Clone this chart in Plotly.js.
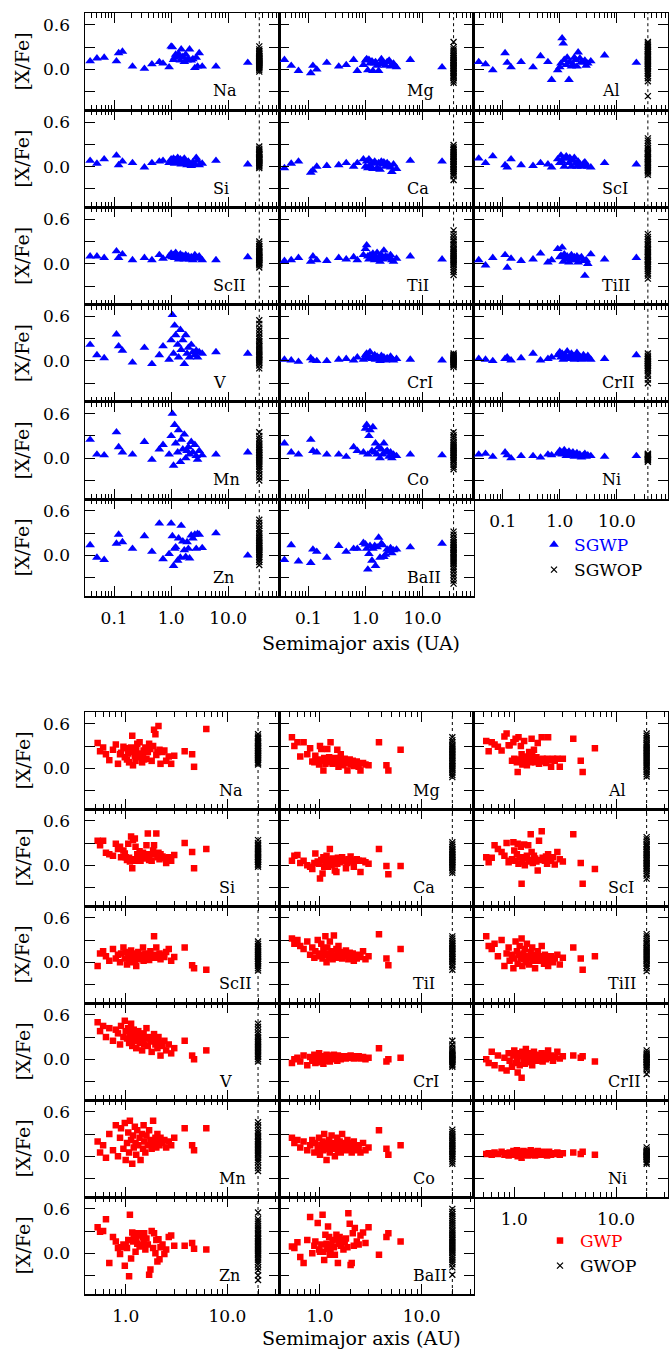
<!DOCTYPE html>
<html><head><meta charset="utf-8">
<script src="https://cdn.plot.ly/plotly-3.0.1.min.js"></script>
<style>html,body{margin:0;padding:0;background:#fff}#chart{width:669px;height:1354px}</style>
</head><body><div id="chart"></div>
<script>
// ---------------- DATA ----------------
const ELEMENTS = ['Na','Mg','Al','Si','Ca','ScI','ScII','TiI','TiII','V','CrI','CrII','Mn','Co','Ni','Zn','BaII'];

// Top figure: subgiants with planets (SGWP), semimajor axis (UA)
const SGWP_A = [0.038,0.050,0.067,0.11,0.12,0.14,0.21,0.34,0.46,0.62,0.72,0.92,1.0,1.05,1.1,1.15,1.2,1.3,1.35,1.45,1.5,1.6,1.7,1.8,1.9,2.0,2.1,2.25,2.4,2.6,2.75,2.9,3.1,3.5,6.1,22];
const SGWOP_A = 35; // subgiants without planets drawn on the dotted line

const sgwp_Na  = [0.11,0.15,0.16,0.11,0.22,0.24,0.04,0.01,0.07,0.10,0.08,0.03,0.31,0.30,0.13,0.16,0.20,0.18,0.21,0.12,0.27,0.17,0.10,0.20,0.12,0.14,0.27,0.12,0.14,0.02,0.16,0.04,0.22,0.04,0.04,0.09];
const sgwp_Mg  = [0.13,0.05,-0.02,-0.05,0.05,0.00,0.09,0.04,0.06,0.13,-0.02,0.06,0.12,0.14,-0.01,0.13,0.08,0.11,-0.02,0.08,0.10,0.05,-0.02,0.07,0.14,0.09,0.07,0.05,0.10,0.12,0.04,0.06,0.08,0.03,0.13,0.03];
const sgwp_Al  = [0.10,0.07,-0.01,0.22,0.09,0.03,0.10,0.03,0.18,0.10,-0.14,-0.01,0.03,0.08,0.42,0.35,0.13,0.06,0.16,-0.14,0.10,0.04,0.07,0.16,0.13,0.04,0.23,0.15,0.10,0.09,0.12,0.05,0.08,0.11,0.19,0.09];
const sgwp_Si  = [0.08,0.04,0.10,0.15,0.02,0.07,0.05,-0.01,0.05,0.07,0.08,0.05,0.10,0.07,0.11,0.04,0.09,0.12,0.06,0.10,0.03,0.08,0.11,0.05,0.02,0.07,0.04,0.01,0.06,0.03,0.12,0.08,0.02,0.04,0.08,0.03];
const sgwp_Ca  = [-0.02,0.04,0.07,-0.08,-0.05,0.00,0.01,0.02,0.05,0.00,0.05,0.10,0.00,0.07,-0.02,0.10,0.01,0.05,-0.03,0.07,0.04,-0.02,0.05,-0.04,0.07,0.03,0.06,0.00,0.05,0.02,-0.01,-0.07,0.03,-0.03,0.08,0.07];
const sgwp_ScI = [0.11,0.05,0.14,0.02,-0.01,0.10,0.02,0.01,0.05,0.03,-0.01,0.10,0.05,0.15,0.07,0.11,0.00,0.14,0.11,0.05,0.12,0.00,0.08,0.12,0.04,0.00,0.07,0.03,0.00,0.04,0.06,0.02,0.00,-0.01,0.05,0.03];
const sgwp_ScII= [0.10,0.10,0.08,0.17,0.08,0.13,0.05,0.08,0.05,0.12,0.07,0.10,0.14,0.09,0.12,0.08,0.15,0.10,0.06,0.13,0.09,0.11,0.06,0.12,0.08,0.10,0.06,0.09,0.05,0.12,0.07,0.08,0.10,0.05,0.05,0.09];
const sgwp_TiI = [0.04,0.05,0.08,0.03,0.10,0.05,0.04,0.08,0.06,0.09,0.05,0.12,0.20,0.25,0.10,0.06,0.12,0.08,0.14,0.05,0.10,0.15,0.08,0.03,0.12,0.06,0.18,0.10,0.09,0.07,0.12,0.05,0.03,0.07,0.10,0.06];
const sgwp_TiII= [0.05,-0.02,0.08,0.12,-0.05,0.07,0.04,0.06,0.14,0.02,0.05,0.20,0.09,0.11,0.22,0.03,0.13,0.06,0.10,0.02,0.08,0.12,0.05,0.09,0.05,0.10,0.02,0.07,0.09,0.04,-0.16,0.05,0.00,0.13,0.06,0.08];
const sgwp_V   = [0.22,0.08,0.04,0.36,0.20,0.14,-0.02,0.18,-0.04,0.08,0.20,0.02,0.28,0.62,0.10,0.48,0.35,0.22,0.05,0.42,0.15,0.28,-0.04,0.35,0.10,0.18,0.05,0.22,0.12,0.08,0.14,0.05,0.12,0.10,0.12,0.10];
const sgwp_CrI = [0.02,0.01,-0.01,0.04,0.01,0.00,0.00,0.02,0.03,0.01,0.05,0.02,0.08,0.10,0.04,0.06,0.12,0.03,0.05,0.08,0.02,0.06,0.04,0.00,0.07,0.03,0.05,0.01,0.04,0.02,0.06,0.03,0.01,0.03,0.02,0.01];
const sgwp_CrII= [0.03,0.02,0.00,0.03,0.05,0.01,0.04,0.10,0.01,0.03,0.05,0.08,0.12,0.05,0.10,0.02,0.08,0.06,0.13,0.05,0.03,0.10,0.07,0.02,0.08,0.11,0.04,0.06,0.02,0.08,0.05,0.03,0.07,0.02,0.03,0.08];
const sgwp_Mn  = [0.25,0.05,0.04,0.35,0.15,0.08,0.05,0.22,-0.02,0.12,0.18,0.05,0.30,0.60,-0.10,0.45,0.20,0.08,0.38,-0.05,0.25,0.12,0.32,0.00,0.10,0.15,0.05,0.22,0.08,0.18,0.03,-0.02,0.10,0.04,0.05,0.08];
const sgwp_Co  = [0.20,0.08,0.05,0.25,0.10,0.08,0.05,0.05,0.02,0.15,0.10,0.08,0.40,0.45,0.05,0.30,0.38,0.10,0.42,0.08,0.20,0.05,0.15,0.00,0.12,0.05,0.20,0.08,0.10,0.02,0.08,0.00,0.05,0.03,0.05,0.04];
const sgwp_Ni  = [0.05,0.06,0.02,0.08,0.04,0.00,0.03,0.03,0.01,0.05,0.04,0.06,0.10,0.08,0.05,0.06,0.11,0.03,0.07,0.09,0.04,0.06,0.08,0.02,0.05,0.07,0.03,0.05,0.01,0.04,0.06,0.02,0.04,0.03,0.02,0.03];
const sgwp_Zn  = [0.14,-0.03,-0.06,0.16,0.28,0.18,0.09,0.26,0.05,0.43,-0.05,0.02,0.43,0.26,-0.14,0.09,0.11,-0.07,0.23,-0.03,0.40,0.19,0.07,-0.02,0.18,0.09,-0.04,0.27,0.23,0.28,0.09,0.29,0.28,0.10,0.30,0.00];
const sgwp_BaII= [-0.06,0.14,-0.08,-0.10,0.08,0.05,-0.03,0.13,0.05,0.09,0.09,0.17,0.15,0.09,-0.19,0.02,0.13,-0.07,0.09,0.13,-0.14,0.11,0.24,-0.03,0.16,0.14,-0.02,0.01,0.08,0.06,0.10,0.03,0.07,0.08,0.11,0.16];

const sgwop_Na  = [0.31,0.27,0.25,0.24,0.22,0.21,0.2,0.18,0.17,0.16,0.15,0.14,0.13,0.12,0.12,0.11,0.1,0.09,0.08,0.08,0.07,0.06,0.05,0.04,0.03,0.02,0.01,-0.01,-0.03];
const sgwop_Mg  = [0.37,0.3,0.27,0.25,0.22,0.2,0.18,0.16,0.15,0.13,0.12,0.1,0.09,0.08,0.06,0.05,0.04,0.02,0.01,0,-0.02,-0.04,-0.05,-0.07,-0.09,-0.1,-0.12,-0.15,-0.18];
const sgwop_Al  = [0.37,0.35,0.33,0.31,0.3,0.28,0.26,0.25,0.23,0.21,0.2,0.18,0.17,0.15,0.13,0.12,0.1,0.08,0.07,0.05,0.04,0.02,0.0,-0.02,-0.04,-0.06,-0.09,-0.12,-0.16,-0.36];
const sgwop_Si  = [0.27,0.24,0.22,0.2,0.18,0.17,0.16,0.15,0.13,0.12,0.11,0.1,0.09,0.08,0.07,0.06,0.05,0.04,0.03,0.02,0.01,0.0,-0.02];
const sgwop_Ca  = [0.29,0.26,0.24,0.22,0.2,0.18,0.16,0.14,0.13,0.11,0.1,0.08,0.07,0.06,0.04,0.03,0.02,0.0,-0.01,-0.03,-0.04,-0.06,-0.08,-0.1,-0.13,-0.18];
const sgwop_ScI = [0.38,0.35,0.32,0.28,0.25,0.23,0.2,0.18,0.17,0.15,0.13,0.11,0.1,0.08,0.06,0.05,0.03,0.02,0.0,-0.02,-0.04,-0.06,-0.08,-0.11];
const sgwop_ScII= [0.3,0.27,0.24,0.22,0.2,0.18,0.16,0.15,0.14,0.12,0.11,0.1,0.09,0.08,0.07,0.06,0.05,0.04,0.02,0.01,0.0,-0.02,-0.05];
const sgwop_TiI = [0.45,0.4,0.36,0.32,0.3,0.27,0.25,0.22,0.2,0.18,0.16,0.14,0.13,0.11,0.1,0.08,0.07,0.05,0.04,0.02,0.0,-0.02,-0.05,-0.08,-0.11,-0.15];
const sgwop_TiII= [0.4,0.36,0.33,0.3,0.27,0.25,0.22,0.2,0.18,0.16,0.14,0.12,0.1,0.09,0.07,0.05,0.04,0.02,0.0,-0.02,-0.04,-0.07,-0.1,-0.13,-0.16,-0.2];
const sgwop_V   = [0.55,0.5,0.45,0.41,0.37,0.33,0.3,0.27,0.25,0.22,0.2,0.18,0.16,0.14,0.12,0.1,0.08,0.07,0.05,0.03,0.01,-0.01,-0.03,-0.06,-0.1];
const sgwop_CrI = [0.1,0.08,0.07,0.06,0.05,0.04,0.03,0.02,0.01,0.0,-0.01,-0.02,-0.03,-0.04,-0.05,-0.06,-0.08];
const sgwop_CrII= [0.1,0.07,0.05,0.03,0.02,0.0,-0.01,-0.03,-0.04,-0.06,-0.07,-0.09,-0.1,-0.12,-0.14,-0.17,-0.2,-0.25,-0.3];
const sgwop_Mn  = [0.35,0.3,0.26,0.23,0.2,0.18,0.15,0.13,0.11,0.09,0.07,0.05,0.04,0.02,0.0,-0.02,-0.04,-0.06,-0.08,-0.1,-0.12,-0.15,-0.18,-0.22,-0.26,-0.3];
const sgwop_Co  = [0.35,0.31,0.28,0.25,0.22,0.2,0.18,0.16,0.14,0.12,0.1,0.08,0.07,0.05,0.04,0.02,0.0,-0.02,-0.04,-0.06,-0.09,-0.12,-0.15];
const sgwop_Ni  = [0.06,0.05,0.04,0.03,0.02,0.01,0.0,-0.01,-0.02,-0.03,-0.05];
const sgwop_Zn  = [0.48,0.44,0.4,0.36,0.33,0.3,0.28,0.25,0.23,0.21,0.19,0.17,0.15,0.13,0.12,0.1,0.08,0.07,0.05,0.04,0.02,0.0,-0.02,-0.04,-0.06,-0.09,-0.13];
const sgwop_BaII= [0.32,0.28,0.24,0.21,0.18,0.16,0.14,0.12,0.1,0.08,0.07,0.05,0.03,0.02,0.0,-0.02,-0.04,-0.06,-0.08,-0.1,-0.12,-0.15,-0.18,-0.22,-0.26,-0.3,-0.34,-0.38];

// Bottom figure: giants with planets (GWP), semimajor axis (AU)
const GWP_A = [0.53,0.56,0.60,0.64,0.69,0.75,0.80,0.84, 0.88,0.90,0.95,0.98,1.0,1.03,1.06,1.08, 1.1,1.13,1.16,1.18,1.2,1.23,1.25,1.27, 1.3,1.33,1.37,1.4,1.45,1.48,1.5,1.52, 1.56,1.6,1.65,1.7,1.75,1.8,1.86,1.9, 1.96,2.0,2.05,2.1,2.15,2.2,2.3,2.4, 2.5,2.65,2.8,3.0,3.8,4.5,4.7,6.2];
const GWOP_A = 20;

const gwp_Na  = [0.34,0.23,0.28,0.19,0.11,0.25,0.32,0.06, 0.19,0.21,0.29,0.15,0.27,0.12,0.20,0.08, 0.22,0.28,0.44,0.04,0.24,0.17,0.10,0.27, 0.33,0.20,0.35,0.15,0.08,0.19,0.24,0.12, 0.28,0.13,0.22,0.33,0.26,0.10,0.30,0.52, 0.46,0.18,0.22,0.57,0.25,0.06,0.22,0.24, 0.10,0.16,0.06,0.17,0.23,0.19,0.02,0.53];
const gwp_Mg  = [0.42,0.30,0.35,0.16,0.35,0.19,0.27,0.09, 0.08,0.17,0.12,0.05,0.30,0.26,0.10,-0.03, 0.14,0.06,0.11,0.26,0.08,0.15,0.10,0.35, 0.12,0.06,0.10,0.14,0.08,0.25,0.11,0.02, 0.11,0.19,0.10,0.04,0.13,0.07,-0.03,0.09, 0.12,0.05,0.08,0.10,0.03,0.06,0.09,0.02, -0.03,0.07,0.05,0.04,0.35,0.04,-0.03,0.25];
const gwp_Al  = [0.37,0.23,0.35,0.32,0.29,0.24,0.43,0.47, 0.31,0.31,0.10,0.35,0.13,0.40,0.08,-0.05, 0.42,0.12,0.30,0.19,0.05,0.14,0.37,0.09, 0.16,0.04,0.11,0.22,0.08,0.40,0.19,0.12, 0.25,0.08,0.15,0.34,0.06,0.12,0.42,0.13, 0.11,0.09,0.07,0.13,0.42,0.11,0.02,0.13, 0.10,0.13,0.02,0.13,0.40,0.10,-0.05,0.27];
const gwp_Si  = [0.33,0.27,0.33,0.17,0.15,0.13,0.29,0.22, 0.25,0.11,0.20,0.16,0.11,0.07,0.29,0.10, 0.05,0.39,-0.04,0.34,0.08,0.36,0.25,0.06, 0.15,0.13,0.19,0.06,0.15,0.17,0.13,0.09, 0.15,0.27,0.43,0.07,0.15,0.06,0.20,0.27, 0.15,0.43,0.11,0.17,0.08,0.15,0.12,0.10, 0.03,0.11,0.06,0.14,0.30,0.18,-0.04,0.22];
const gwp_Ca  = [0.06,0.13,0.14,0.03,0.06,0.00,-0.02,-0.05, 0.03,0.16,0.05,0.02,-0.18,0.07,-0.11,0.11, -0.02,0.03,0.13,0.02,-0.02,0.07,0.22,0.07, 0.00,0.09,0.04,-0.07,-0.09,0.02,0.10,0.07, 0.04,0.06,0.11,0.05,0.06,-0.04,0.03,0.08, 0.06,0.12,0.05,0.06,-0.02,0.06,0.08,0.06, -0.09,0.06,0.04,0.02,0.22,-0.01,-0.12,-0.01];
const gwp_ScI = [0.11,0.04,0.10,0.27,0.22,0.18,0.13,0.30, 0.04,0.06,0.08,0.31,0.20,0.06,0.15,0.29, 0.02,0.11,0.25,-0.25,0.04,0.11,0.28,0.00, 0.09,0.13,0.27,0.05,0.42,0.18,0.07,0.03, 0.13,0.09,0.05,-0.07,0.33,0.07,0.46,0.10, 0.08,0.06,0.12,0.02,0.15,0.09,0.06,0.11, 0.01,0.18,0.08,0.05,0.42,0.03,-0.25,-0.05];
const gwp_ScII= [-0.05,0.12,0.15,0.08,0.02,0.18,0.05,0.10, 0.00,0.12,0.20,0.05,0.14,-0.03,0.10,0.03, 0.08,0.16,0.00,0.12,0.06,0.02,0.10,-0.05, 0.08,0.14,0.04,0.10,0.06,0.20,0.02,0.09, 0.12,0.05,0.10,0.03,0.15,0.08,0.06,0.35, 0.10,0.20,0.06,0.08,0.12,0.04,0.10,0.07, 0.14,0.18,0.02,0.07,0.20,-0.04,-0.08,-0.10];
const gwp_TiI = [0.32,0.25,0.30,0.22,0.18,0.28,0.10,0.20, 0.06,0.15,0.30,0.08,0.12,0.25,0.05,0.18, 0.10,0.35,0.00,0.20,0.12,0.06,0.28,0.10, 0.15,0.04,0.36,0.08,0.18,0.12,0.06,0.22, 0.10,0.14,0.05,0.12,0.08,0.16,0.10,0.04, 0.13,0.09,0.06,0.12,0.02,0.08,0.05,0.10, 0.07,0.15,0.04,0.08,0.38,0.05,-0.04,0.18];
const gwp_TiII= [0.35,0.22,0.18,0.25,0.08,0.30,-0.05,0.12, 0.20,0.02,0.10,-0.08,0.05,0.28,0.15,-0.02, 0.10,0.22,0.06,0.32,-0.05,0.12,0.04,0.18, 0.00,0.25,0.08,-0.03,0.14,0.05,0.20,0.02, 0.10,-0.08,0.06,0.15,0.02,0.08,0.22,0.05, -0.02,0.10,0.04,0.06,-0.05,0.02,0.08,0.00, 0.05,0.10,-0.03,0.06,0.20,0.05,-0.10,0.08];
const gwp_V   = [0.50,0.38,0.45,0.30,0.42,0.25,0.40,0.35, 0.20,0.45,0.30,0.52,0.38,0.28,0.42,0.22, 0.35,0.48,0.18,0.30,0.40,0.25,0.33,0.15, 0.28,0.38,0.22,0.30,0.12,0.25,0.35,0.20, 0.28,0.42,0.18,0.30,0.24,0.10,0.28,0.34, 0.20,0.26,0.15,0.30,0.22,0.05,0.18,0.25, 0.12,0.20,0.08,0.15,0.25,0.05,0.00,0.12];
const gwp_CrI = [-0.05,0.00,0.02,-0.03,0.05,-0.08,0.03,-0.02, 0.06,-0.05,0.02,0.08,-0.04,0.01,0.04,-0.06, 0.03,0.00,0.06,-0.02,0.02,0.05,-0.03,0.01, 0.04,0.00,0.06,0.02,0.03,-0.02,0.05,0.01, 0.03,0.00,0.04,0.02,0.03,0.01,0.04,0.02, 0.03,0.05,0.02,0.04,0.01,0.03,0.02,0.04, 0.01,0.03,0.00,0.02,0.15,-0.03,0.00,0.02];
const gwp_CrII= [0.00,-0.05,0.10,-0.08,0.05,-0.12,0.02,-0.15, 0.08,-0.02,-0.10,0.05,0.12,-0.05,0.00,-0.18, 0.08,-0.08,0.04,-0.25,0.10,-0.02,0.05,-0.06, 0.14,0.00,0.06,-0.04,0.08,0.02,-0.08,0.04, 0.10,0.00,0.05,-0.02,0.06,0.02,0.08,-0.03, 0.04,0.06,0.00,0.03,0.12,0.02,0.05,-0.02, 0.03,0.10,0.01,0.04,0.05,0.02,0.04,-0.03];
const gwp_Mn  = [0.20,0.05,0.15,-0.02,0.30,0.08,0.42,0.00, 0.25,0.38,0.10,0.45,-0.05,0.18,0.32,0.05, 0.48,0.22,-0.10,0.28,0.12,0.40,0.18,0.02, 0.35,0.15,0.25,-0.05,0.30,0.10,0.42,0.20, 0.05,0.28,0.15,0.35,0.22,0.10,0.48,0.18, 0.25,0.12,0.30,0.20,0.15,0.25,0.18,0.22, 0.12,0.20,0.15,0.25,0.38,0.15,0.08,0.38];
const gwp_Co  = [0.25,0.18,0.22,0.12,0.20,0.08,0.15,0.22, 0.05,0.18,0.10,0.25,0.02,0.15,0.20,0.08, 0.30,0.12,-0.05,0.18,0.10,0.22,0.05,0.15, 0.28,0.10,0.18,0.00,0.12,0.25,0.08,0.15, 0.20,0.05,0.30,0.12,0.18,0.08,0.22,0.15, 0.10,0.18,0.05,0.12,0.20,0.08,0.15,0.10, 0.05,0.18,0.08,0.12,0.35,0.10,0.02,0.15];
const gwp_Ni  = [0.03,0.04,0.02,0.05,0.03,0.06,0.02,0.04, 0.01,0.05,0.03,0.07,0.02,0.04,0.08,0.00, 0.05,0.03,0.06,-0.02,0.04,0.07,0.02,0.05, 0.03,0.06,0.01,0.04,0.08,0.02,0.05,0.03, 0.06,0.01,0.04,0.07,0.02,0.05,0.03,0.06, 0.02,0.04,0.05,0.01,0.03,0.06,0.02,0.04, 0.03,0.05,0.02,0.04,0.05,0.03,0.06,0.02];
const gwp_Zn  = [0.35,0.29,0.30,0.46,-0.13,0.22,0.16,0.07, -0.01,0.08,0.12,-0.17,0.11,0.07,0.18,-0.31, 0.52,-0.07,0.28,0.16,0.22,0.27,0.02,0.20, 0.13,0.24,0.09,0.27,0.11,0.22,0.16,0.27, 0.05,0.20,0.12,-0.29,-0.22,0.30,0.07,0.27, 0.00,0.18,-0.11,0.19,-0.08,0.08,0.12,-0.01, 0.05,0.22,0.24,0.10,0.10,0.14,0.06,0.05];
const gwp_BaII= [0.09,0.07,0.15,-0.05,-0.13,0.18,0.49,0.00, 0.10,0.16,0.41,0.05,0.02,0.12,0.52,0.02, -0.09,0.25,0.13,0.06,0.36,0.22,-0.02,0.06, 0.11,0.18,0.08,-0.02,0.25,0.20,-0.13,0.13, 0.22,0.10,0.18,0.05,0.15,0.20,0.08,0.54, 0.40,-0.16,-0.13,0.27,0.10,0.34,0.16,0.12, 0.24,0.28,0.14,0.35,-0.02,0.22,0.27,0.16];

const gwop_Na  = [0.46,0.43,0.41,0.39,0.37,0.35,0.34,0.32,0.3,0.29,0.27,0.26,0.24,0.23,0.21,0.2,0.18,0.17,0.15,0.14,0.12,0.11,0.09,0.07,0.05];
const gwop_Mg  = [0.42,0.38,0.35,0.32,0.3,0.28,0.26,0.24,0.22,0.2,0.18,0.16,0.14,0.12,0.1,0.09,0.07,0.05,0.03,0.01,-0.01,-0.03,-0.06,-0.09,-0.12];
const gwop_Al  = [0.47,0.44,0.41,0.38,0.35,0.33,0.31,0.29,0.27,0.25,0.23,0.21,0.19,0.17,0.15,0.13,0.11,0.09,0.07,0.05,0.03,0.01,-0.02,-0.05,-0.08,-0.11];
const gwop_Si  = [0.34,0.3,0.28,0.26,0.24,0.22,0.2,0.18,0.17,0.15,0.14,0.12,0.11,0.1,0.08,0.07,0.05,0.04,0.02,0.0,-0.02];
const gwop_Ca  = [0.31,0.28,0.25,0.22,0.2,0.18,0.16,0.14,0.13,0.11,0.1,0.08,0.07,0.05,0.04,0.02,0.0,-0.02,-0.04,-0.07,-0.1];
const gwop_ScI = [0.38,0.35,0.32,0.29,0.27,0.25,0.22,0.2,0.18,0.16,0.14,0.12,0.1,0.09,0.07,0.05,0.03,0.01,-0.01,-0.03,-0.05,-0.08,-0.11,-0.14,-0.18];
const gwop_ScII= [0.28,0.25,0.22,0.2,0.18,0.16,0.14,0.12,0.1,0.09,0.07,0.05,0.04,0.02,0.0,-0.02,-0.05,-0.08,-0.11];
const gwop_TiI = [0.35,0.32,0.29,0.26,0.24,0.22,0.2,0.18,0.16,0.14,0.12,0.11,0.09,0.07,0.05,0.04,0.02,0.0,-0.03,-0.06,-0.1];
const gwop_TiII= [0.38,0.35,0.32,0.29,0.26,0.24,0.21,0.19,0.17,0.15,0.13,0.11,0.09,0.07,0.05,0.03,0.01,-0.02,-0.05,-0.08,-0.12];
const gwop_V   = [0.48,0.44,0.4,0.36,0.33,0.3,0.28,0.25,0.23,0.21,0.19,0.17,0.15,0.13,0.11,0.09,0.07,0.05,0.03,0.0,-0.03];
const gwop_CrI = [0.25,0.2,0.16,0.13,0.11,0.09,0.07,0.06,0.05,0.04,0.03,0.02,0.01,0.0,-0.01,-0.02,-0.04,-0.06,-0.08,-0.1];
const gwop_CrII= [0.12,0.09,0.07,0.05,0.03,0.02,0.0,-0.01,-0.03,-0.04,-0.06,-0.08,-0.1,-0.12,-0.15,-0.2];
const gwop_Mn  = [0.46,0.42,0.38,0.34,0.31,0.28,0.26,0.23,0.21,0.19,0.17,0.15,0.13,0.11,0.09,0.07,0.05,0.03,0.01,-0.02,-0.05,-0.08,-0.12,-0.16,-0.2];
const gwop_Co  = [0.36,0.33,0.3,0.27,0.25,0.22,0.2,0.18,0.16,0.14,0.12,0.1,0.09,0.07,0.05,0.03,0.01,-0.01,-0.04,-0.07,-0.1];
const gwop_Ni  = [0.12,0.09,0.07,0.06,0.05,0.04,0.03,0.02,0.01,0.0,-0.01,-0.03,-0.05,-0.08,-0.1];
const gwop_Zn  = [0.55,0.46,0.43,0.4,0.37,0.34,0.31,0.28,0.26,0.23,0.21,0.19,0.17,0.15,0.13,0.11,0.09,0.07,0.05,0.03,0.01,-0.01,-0.03,-0.06,-0.09,-0.12,-0.15,-0.19,-0.23,-0.3,-0.36];
const gwop_BaII= [0.6,0.56,0.53,0.5,0.47,0.44,0.41,0.38,0.35,0.32,0.3,0.27,0.25,0.22,0.2,0.18,0.16,0.14,0.12,0.1,0.08,0.06,0.04,0.02,0.0,-0.03,-0.06,-0.09,-0.12,-0.15,-0.19,-0.29];

// Axis tick labels
const Y_TICKS = [-0.3, 0, 0.3, 0.6];
const Y_TICKTEXT = ['', '0.0', '', '0.6'];
const TOP_XTICKS = [0.1, 1, 10];
const TOP_XTICKTEXT = ['0.1', '1.0', '10.0'];
const TOP_XMINOR = [0.04,0.05,0.06,0.07,0.08,0.09,0.2,0.3,0.4,0.5,0.6,0.7,0.8,0.9,2,3,4,5,6,7,8,9,20,30,40,50,60,70];
const BOT_XTICKS = [1, 10];
const BOT_XTICKTEXT = ['1.0', '10.0'];
const BOT_XMINOR = [0.5,0.6,0.7,0.8,0.9,2,3,4,5,6,7,8,9,20,30];

// ---------------- BUILD ----------------
const SGWP = {Na:sgwp_Na,Mg:sgwp_Mg,Al:sgwp_Al,Si:sgwp_Si,Ca:sgwp_Ca,ScI:sgwp_ScI,ScII:sgwp_ScII,TiI:sgwp_TiI,TiII:sgwp_TiII,V:sgwp_V,CrI:sgwp_CrI,CrII:sgwp_CrII,Mn:sgwp_Mn,Co:sgwp_Co,Ni:sgwp_Ni,Zn:sgwp_Zn,BaII:sgwp_BaII};
const SGWOP = {Na:sgwop_Na,Mg:sgwop_Mg,Al:sgwop_Al,Si:sgwop_Si,Ca:sgwop_Ca,ScI:sgwop_ScI,ScII:sgwop_ScII,TiI:sgwop_TiI,TiII:sgwop_TiII,V:sgwop_V,CrI:sgwop_CrI,CrII:sgwop_CrII,Mn:sgwop_Mn,Co:sgwop_Co,Ni:sgwop_Ni,Zn:sgwop_Zn,BaII:sgwop_BaII};
const GWP = {Na:gwp_Na,Mg:gwp_Mg,Al:gwp_Al,Si:gwp_Si,Ca:gwp_Ca,ScI:gwp_ScI,ScII:gwp_ScII,TiI:gwp_TiI,TiII:gwp_TiII,V:gwp_V,CrI:gwp_CrI,CrII:gwp_CrII,Mn:gwp_Mn,Co:gwp_Co,Ni:gwp_Ni,Zn:gwp_Zn,BaII:gwp_BaII};
const GWOP = {Na:gwop_Na,Mg:gwop_Mg,Al:gwop_Al,Si:gwop_Si,Ca:gwop_Ca,ScI:gwop_ScI,ScII:gwop_ScII,TiI:gwop_TiI,TiII:gwop_TiII,V:gwop_V,CrI:gwop_CrI,CrII:gwop_CrII,Mn:gwop_Mn,Co:gwop_Co,Ni:gwop_Ni,Zn:gwop_Zn,BaII:gwop_BaII};

const W = 669, H = 1354;
const FONT = 'DejaVu Serif, serif';
const COL_L = [85, 279.3, 473.6], COL_W = 194.3;
const YR = [-0.55, 0.76];

const FIGS = [
  {top:13, rowH:97.2, xr:[-1.51,1.895], tv:TOP_XTICKS, tt:TOP_XTICKTEXT, minor:TOP_XMINOR,
   wpA:SGWP_A, wp:SGWP, woA:SGWOP_A, wo:SGWOP, labX:126,
   sym:'triangle-up', size:8.5, color:'#0000ff', wpName:'SGWP', woName:'SGWOP', legend:'legend',
   xtitle:'Semimajor axis (UA)', xtitleY:643},
  {top:712, rowH:97, xr:[-0.40,1.51], tv:BOT_XTICKS, tt:BOT_XTICKTEXT, minor:BOT_XMINOR,
   wpA:GWP_A, wp:GWP, woA:GWOP_A, wo:GWOP, labX:132,
   sym:'square', size:6.5, color:'#ff0000', wpName:'GWP', woName:'GWOP', legend:'legend2',
   xtitle:'Semimajor axis (AU)', xtitleY:1338}
];

const traces = [];
const layout = {
  width:W, height:H, margin:{l:0,r:0,t:0,b:0},
  paper_bgcolor:'#ffffff', plot_bgcolor:'rgba(0,0,0,0)',
  font:{family:FONT, size:17, color:'#000'},
  showlegend:true, hovermode:false,
  annotations:[],
  legend:{x:534/W, y:1-527/H, xanchor:'left', yanchor:'top', font:{family:FONT,size:17,color:'#000'},
          bgcolor:'rgba(0,0,0,0)', borderwidth:0, itemwidth:30, tracegroupgap:0},
  legend2:{x:540/W, y:1-1223/H, xanchor:'left', yanchor:'top', font:{family:FONT,size:17,color:'#000'},
          bgcolor:'rgba(0,0,0,0)', borderwidth:0, itemwidth:30, tracegroupgap:0}
};

FIGS.forEach((fig, f) => {
  ELEMENTS.forEach((el, k) => {
    const idx = f*17 + k + 1;
    const sfx = idx === 1 ? '' : String(idx);
    const row = Math.floor(k/3), col = k % 3;
    const x0 = COL_L[col], x1 = x0 + COL_W;
    const yT = fig.top + row*fig.rowH, yB = yT + fig.rowH;
    const showX = (row === 5) || (row === 4 && col === 2);
    layout['xaxis'+sfx] = {
      domain:[x0/W, x1/W], type:'log', range:fig.xr, anchor:'y'+sfx,
      showline:true, linewidth:1.5, linecolor:'#000', mirror:'ticks',
      ticks:'inside', ticklen:10, tickwidth:1, tickcolor:'#000',
      tickmode:'array', tickvals:fig.tv, ticktext:fig.tt,
      showticklabels:showX, ticklabelstandoff:6, tickfont:{family:FONT,size:17},
      minor:{tickmode:'array', tickvals:fig.minor, ticks:'inside', ticklen:5, tickwidth:1, tickcolor:'#000', showgrid:false},
      showgrid:false, zeroline:false, fixedrange:true
    };
    layout['yaxis'+sfx] = {
      domain:[1-yB/H, 1-yT/H], range:YR, anchor:'x'+sfx,
      showline:true, linewidth:1.5, linecolor:'#000', mirror:'ticks',
      ticks:'inside', ticklen:10, tickwidth:1, tickcolor:'#000',
      tickmode:'array', tickvals:Y_TICKS, ticktext:Y_TICKTEXT,
      showticklabels:col === 0, ticklabelstandoff:10, tickfont:{family:FONT,size:17},
      showgrid:false, zeroline:false, fixedrange:true
    };
    // dotted line where stars without planets are placed
    traces.push({type:'scatter', mode:'lines', x:[fig.woA, fig.woA], y:YR, xaxis:'x'+sfx, yaxis:'y'+sfx,
      line:{color:'#000', width:1, dash:'dot'}, showlegend:false, hoverinfo:'skip'});
    // stars without planets
    traces.push({type:'scatter', mode:'markers', x:fig.wo[el].map(() => fig.woA), y:fig.wo[el],
      xaxis:'x'+sfx, yaxis:'y'+sfx, name:fig.woName, legend:fig.legend, legendrank:2,
      marker:{symbol:'x-thin', size:6, color:'#000', line:{color:'#000', width:1.3}},
      showlegend:k === 0, cliponaxis:true});
    // stars with planets
    traces.push({type:'scatter', mode:'markers', x:fig.wpA, y:fig.wp[el],
      xaxis:'x'+sfx, yaxis:'y'+sfx, legend:fig.legend, legendrank:1,
      name:'<span style="color:'+fig.color+'">'+fig.wpName+'</span>',
      marker:{symbol:fig.sym, size:fig.size, color:fig.color, line:{width:0}},
      showlegend:k === 0, cliponaxis:true});
    // element label
    layout.annotations.push({text:el, xref:'x'+sfx+' domain', yref:'y'+sfx+' domain',
      x:fig.labX/COL_W, y:(fig.rowH-78)/fig.rowH, xanchor:'left', yanchor:'middle',
      showarrow:false, font:{family:FONT, size:16, color:'#000'}});
  });
  // y titles, one per row
  for (let r = 0; r < 6; r++) {
    const cy = fig.top + r*fig.rowH + fig.rowH/2;
    layout.annotations.push({text:'[X/Fe]', xref:'paper', yref:'paper', x:22/W, y:1-cy/H,
      xanchor:'center', yanchor:'middle', textangle:-90, showarrow:false,
      font:{family:FONT, size:19, color:'#000'}});
  }
  // x title
  layout.annotations.push({text:fig.xtitle, xref:'paper', yref:'paper', x:361/W, y:1-fig.xtitleY/H,
    xanchor:'center', yanchor:'middle', showarrow:false, font:{family:FONT, size:19, color:'#000'}});
});

Plotly.newPlot('chart', traces, layout, {staticPlot:true, displayModeBar:false});
</script>
</body></html>
